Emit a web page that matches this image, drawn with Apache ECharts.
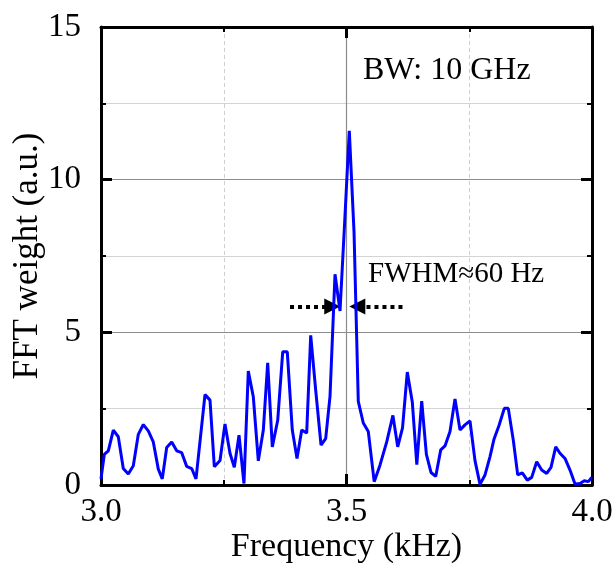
<!DOCTYPE html>
<html><head><meta charset="utf-8">
<script src="https://cdn.jsdelivr.net/npm/echarts@6/dist/echarts.min.js"></script>
<style>html,body{margin:0;padding:0;background:#fff}#c{width:614px;height:565px}</style>
</head><body><div id="c"></div>
<script>
// Frequency (kHz) of each vertex
const freqKHz = [
  3.0000, 3.0067, 3.0149, 3.0251, 3.0352, 3.0454, 3.0556, 3.0658, 3.0760, 3.0862,
  3.0963, 3.1065, 3.1167, 3.1248, 3.1338, 3.1440, 3.1542, 3.1644, 3.1745, 3.1847,
  3.1935, 3.2118, 3.2220, 3.2308, 3.2424, 3.2525, 3.2627, 3.2715, 3.2811, 3.2912,
  3.3000, 3.3102, 3.3204, 3.3306, 3.3395, 3.3489, 3.3599, 3.3701, 3.3794, 3.3896,
  3.3992, 3.4088, 3.4189, 3.4271, 3.4373, 3.4481, 3.4576, 3.4664, 3.4766, 3.4868,
  3.4959, 3.5057, 3.5153, 3.5240, 3.5342, 3.5444, 3.5564, 3.5682, 3.5819, 3.5945,
  3.6043, 3.6141, 3.6238, 3.6340, 3.6432, 3.6532, 3.6627, 3.6721, 3.6817, 3.6919,
  3.7006, 3.7108, 3.7210, 3.7312, 3.7413, 3.7515, 3.7617, 3.7719, 3.7821, 3.7923,
  3.8004, 3.8106, 3.8214, 3.8295, 3.8397, 3.8487, 3.8580, 3.8682, 3.8772, 3.8874,
  3.8976, 3.9077, 3.9165, 3.9261, 3.9348, 3.9450, 3.9552, 3.9654, 3.9756, 3.9843,
  3.9925, 3.9995
];
// FFT weight (a.u.) at each vertex
const fftWeight = [
  0.20, 1.00, 1.12, 1.80, 1.58, 0.54, 0.36, 0.63, 1.66, 1.98,
  1.77, 1.41, 0.52, 0.20, 1.23, 1.41, 1.12, 1.06, 0.61, 0.54,
  0.20, 2.96, 2.78, 0.60, 0.80, 2.00, 1.04, 0.58, 1.63, 0.05,
  3.73, 2.89, 0.79, 1.80, 4.00, 1.25, 2.12, 4.36, 4.36, 1.80,
  0.87, 1.80, 1.70, 4.90, 3.10, 1.31, 1.52, 2.90, 6.90, 5.70,
  8.50, 11.60, 8.30, 2.74, 2.03, 1.75, 0.11, 0.65, 1.41, 2.28,
  1.25, 1.87, 3.70, 2.72, 0.67, 2.75, 1.00, 0.41, 0.28, 1.15,
  1.28, 1.75, 2.82, 1.80, 1.97, 2.10, 0.80, 0.02, 0.33, 0.93,
  1.50, 1.95, 2.51, 2.51, 1.47, 0.33, 0.40, 0.16, 0.25, 0.76,
  0.49, 0.38, 0.58, 1.25, 1.04, 0.87, 0.49, 0.03, 0.05, 0.14,
  0.11, 0.25
];
const xTickLabels = ['3.0', '3.5', '4.0'];
const yTickLabels = ['0', '5', '10', '15'];
const xTitle = 'Frequency (kHz)';
const yTitle = 'FFT weight (a.u.)';
const noteBW = 'BW: 10 GHz';
const noteFWHM = 'FWHM\u224860 Hz';
// dotted FWHM arrows: [fromX, toX] at height arrowLevel
const arrowLevel = [5.85];
const arrowLeft = [3.385, 3.471];
const arrowRight = [3.614, 3.522];

const FONT = 'Liberation Serif';
const pairs = freqKHz.map((f, i) => [f, fftWeight[i]]);

const axisCommon = {
  type: 'value',
  axisLine: { show: true, onZero: false, lineStyle: { color: '#000', width: 3 } },
  axisTick: { show: true, inside: true, length: 11, lineStyle: { color: '#000', width: 3 } },
  minorTick: { show: true, splitNumber: 2, length: 5, lineStyle: { color: '#000', width: 2 } }
};

const chart = echarts.init(document.getElementById('c'), null, { renderer: 'canvas' });
chart.setOption({
  animation: false,
  backgroundColor: '#fff',
  grid: { left: 101, right: 22, top: 27, bottom: 80, containLabel: false, outerBoundsMode: 'none' },
  xAxis: [
    Object.assign({}, axisCommon, {
      position: 'bottom', min: 3, max: 4, interval: 0.5,
      name: xTitle, nameLocation: 'middle', nameGap: 45, nameMoveOverlap: false,
      nameTextStyle: { fontFamily: FONT, fontSize: 34, color: '#000' },
      axisLabel: { margin: 11, fontFamily: FONT, fontSize: 33, color: '#000',
        formatter: v => { const s = v.toFixed(1); return xTickLabels.includes(s) ? s : ''; } },
      splitLine: { show: true, lineStyle: { color: '#8c8c8c', width: 1.2 } },
      minorSplitLine: { show: true, lineStyle: { color: '#cfcfcf', width: 1, type: [4, 3] } }
    }),
    Object.assign({}, axisCommon, {
      position: 'top', min: 3, max: 4, interval: 0.5,
      axisLabel: { show: false }, splitLine: { show: false }
    })
  ],
  yAxis: [
    Object.assign({}, axisCommon, {
      position: 'left', min: 0, max: 15, interval: 5,
      name: yTitle, nameLocation: 'middle', nameGap: 56, nameRotate: 90, nameMoveOverlap: false,
      nameTextStyle: { fontFamily: FONT, fontSize: 35, color: '#000' },
      axisLabel: { margin: 20, fontFamily: FONT, fontSize: 33, color: '#000',
        formatter: v => { const s = String(v); return yTickLabels.includes(s) ? s : ''; } },
      splitLine: { show: true, lineStyle: { color: '#8c8c8c', width: 1.2 } },
      minorSplitLine: { show: true, lineStyle: { color: '#d4d4d4', width: 1 } }
    }),
    Object.assign({}, axisCommon, {
      position: 'right', min: 0, max: 15, interval: 5,
      axisLabel: { show: false }, splitLine: { show: false }
    })
  ],
  graphic: [
    { type: 'text', left: 363, top: 55, z: 10,
      style: { text: noteBW, font: '32px ' + FONT, fill: '#000' } },
    { type: 'text', left: 368, top: 260, z: 10,
      style: { text: noteFWHM, font: '29px ' + FONT, fill: '#000' } }
  ],
  series: [{
    type: 'line',
    data: pairs,
    showSymbol: false,
    symbol: 'none',
    clip: true,
    lineStyle: { color: '#0000ff', width: 3 },
    z: 5,
    markLine: {
      silent: true,
      symbol: ['none', 'triangle'],
      symbolSize: [16, 16],
      label: { show: false },
      lineStyle: { color: '#000', width: 4, type: [4, 4] },
      data: [
        [{ coord: [arrowLeft[0], arrowLevel[0]] }, { coord: [arrowLeft[1], arrowLevel[0]] }],
        [{ coord: [arrowRight[0], arrowLevel[0]] }, { coord: [arrowRight[1], arrowLevel[0]] }]
      ]
    }
  }]
});
</script></body></html>
